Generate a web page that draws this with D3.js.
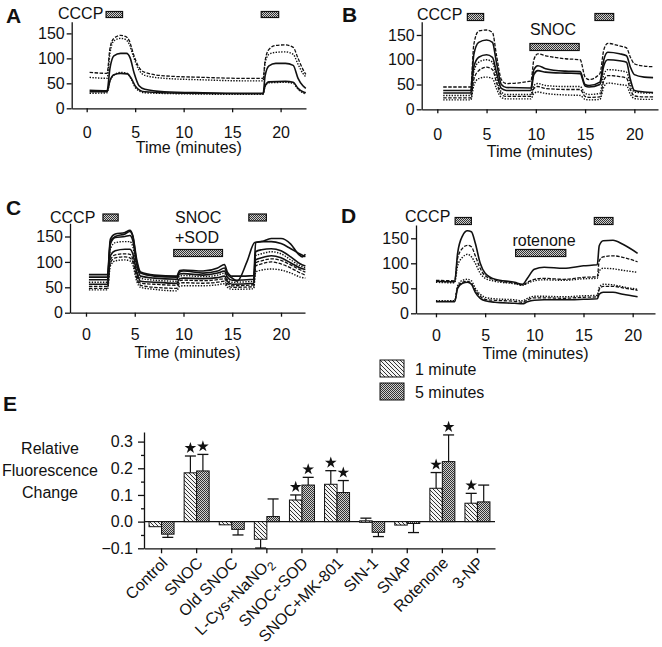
<!DOCTYPE html>
<html><head><meta charset="utf-8">
<script src="https://cdn.jsdelivr.net/npm/d3@7"></script>
<style>body{margin:0;background:#fff}text,tspan{font-family:"Liberation Sans",Arial,Helvetica,sans-serif;fill:#111}</style>
</head><body><svg id="c" width="662" height="647" xmlns="http://www.w3.org/2000/svg"></svg>
<script>
// ---------------- DATA ----------------
const timeTicks = [0, 5, 10, 15, 20];
const fluorTicks = [0, 50, 100, 150];

// Panel A traces [time (min), fluorescence]
const tracesA = [
  [[0.3,72],[2.1,70],[2.4,120],[2.8,140],[3.5,146],[4.0,144],[4.4,135],[4.8,110],[5.3,85],[6,72],[8,65],[12,62],[16,60],[18.2,60],[18.4,95],[18.8,118],[19.5,126],[20.5,127],[21.3,122],[21.8,100],[22.3,78],[22.6,68]],
  [[0.3,62],[2.1,60],[2.4,110],[2.8,135],[3.5,140],[4.0,138],[4.4,128],[4.8,105],[5.3,80],[6,66],[8,60],[12,57],[16,55],[18.2,55],[18.4,90],[18.8,108],[19.5,112],[20.5,113],[21.3,108],[21.8,88],[22.3,70],[22.6,63]],
  [[0.3,36],[2.1,35],[2.4,80],[2.8,105],[3.5,110],[4.1,110],[4.5,100],[4.9,70],[5.4,45],[6,38],[8,33],[12,31],[16,30],[18.2,30],[18.4,65],[18.8,85],[19.5,90],[20.5,90],[21.3,86],[21.8,60],[22.3,45],[22.6,40]],
  [[0.3,33],[2.1,33],[2.4,55],[2.8,67],[3.5,70],[4.2,69],[4.6,60],[5.0,45],[5.5,36],[6,33],[10,30],[16,29],[18.2,29],[18.4,45],[18.8,53],[20.5,54],[21.3,52],[21.8,40],[22.3,33],[22.6,31]],
  [[0.3,30],[2.1,31],[2.4,55],[2.8,66],[3.5,72],[4.2,70],[4.6,58],[5.0,42],[5.5,34],[6,31],[10,29],[16,28],[18.2,28],[18.4,44],[18.8,51],[20.5,52],[21.3,50],[21.8,38],[22.3,31],[22.6,29]]
];
const stylesA = ["dash","dot","solid","solid","dot"];
const cccpA = [[2.0,3.7],[18.0,19.8]];

// Panel B
const tracesB = [
  [[0.6,45],[3.4,45],[3.7,130],[4.2,158],[5,160],[5.6,155],[6,110],[6.5,60],[7,52],[9.5,57],[9.8,100],[10.2,112],[11,108],[13,102],[14.5,100],[15,65],[15.4,60],[16.5,72],[16.9,120],[17.3,133],[18.5,128],[19.2,124],[19.6,105],[20,92],[21,87],[21.9,86]],
  [[0.6,38],[3.4,38],[3.7,110],[4.2,135],[5,140],[5.6,135],[6,95],[6.5,50],[7,44],[9.5,43],[9.8,80],[10.2,88],[11,82],[13,77],[14.5,76],[15,50],[15.4,48],[16.5,55],[16.9,100],[17.3,115],[18.5,112],[19.2,108],[19.6,85],[20,70],[21,65],[21.9,64]],
  [[0.6,33],[3.4,33],[3.7,85],[4.2,105],[5,110],[5.6,105],[6,75],[6.5,42],[7,38],[9.5,38],[9.8,70],[10.2,78],[11,75],[13,73],[14.5,72],[15,47],[15.4,45],[16.5,50],[16.9,88],[17.3,100],[18.5,98],[19.2,95],[19.6,60],[20,38],[21,35],[21.9,34]],
  [[0.6,28],[3.4,28],[3.7,75],[4.2,95],[5,100],[5.6,95],[6,65],[6.5,35],[7,30],[9.5,30],[9.8,48],[10.2,52],[11,48],[13,46],[14.5,46],[15,32],[15.4,30],[16.5,32],[16.9,70],[17.3,80],[18.5,78],[19.2,75],[19.6,50],[20,35],[21,33],[21.9,33]],
  [[0.6,23],[3.4,23],[3.7,60],[4.2,78],[5,85],[5.6,80],[6,55],[6.5,30],[7,26],[9.5,26],[9.8,42],[10.2,46],[11,42],[13,40],[14.5,40],[15,26],[15.4,24],[16.5,25],[16.9,58],[17.3,68],[18.5,66],[19.2,63],[19.6,40],[20,27],[21,25],[21.9,25]],
  [[0.6,19],[3.4,19],[3.7,48],[4.2,62],[5,65],[5.6,62],[6,42],[6.5,24],[7,21],[9.5,21],[9.8,32],[10.2,35],[11,32],[13,29],[14.5,28],[15,20],[15.4,19],[16.5,20],[16.9,45],[17.3,53],[18.5,50],[19.2,48],[19.6,30],[20,22],[21,20],[21.9,20]]
];
const stylesB = ["dash","solid","solid","dot","dash","dot"];
const cccpB = [[3.05,4.7],[16.0,17.9]];
const snocB = [[9.4,14.4]];

// Panel C
const tracesC = [
  [[0.3,70],[2.2,70],[2.5,140],[3,150],[4,155],[4.5,160],[4.8,150],[5.2,100],[5.6,78],[7,72],[9.3,70],[9.6,80],[10,82],[12,78],[13.5,82],[14.2,88],[14.5,76],[15,68],[15.5,62],[16.5,100],[17.3,138],[18,140],[19,146],[20,146],[21,135],[21.8,115],[22.2,110],[22.5,115]],
  [[0.3,75],[2.2,75],[2.5,145],[3,155],[4,158],[4.5,162],[4.8,152],[5.2,105],[5.6,80],[7,74],[9.3,72],[9.6,83],[10,84],[12,82],[13.5,88],[14.2,95],[14.5,80],[15,72],[15.5,72],[17.2,73],[17.4,138],[18,140],[19,140],[20,136],[21,126],[22,115],[22.5,110]],
  [[0.3,65],[2.2,65],[2.5,135],[3,148],[4,150],[4.5,152],[4.8,142],[5.2,95],[5.6,72],[7,68],[9.3,66],[9.6,76],[10,77],[12,74],[13.5,78],[14.2,82],[14.5,70],[15,64],[17.2,66],[17.4,120],[18,124],[19,126],[20,122],[21,110],[22,96],[22.5,92]],
  [[0.3,60],[2.2,60],[2.5,125],[3,138],[4,140],[4.5,140],[4.8,130],[5.2,88],[5.6,68],[7,64],[9.3,62],[9.6,72],[10,73],[12,71],[13.5,74],[14.2,78],[14.5,66],[15,60],[17.2,62],[17.4,112],[18,116],[19,120],[20,116],[21,104],[22,92],[22.5,88]],
  [[0.3,56],[2.2,56],[2.5,112],[3,122],[4,125],[4.5,125],[4.8,116],[5.2,80],[5.6,62],[7,60],[9.3,58],[9.6,67],[10,68],[12,67],[13.5,69],[14.2,72],[14.5,62],[15,56],[17.2,58],[17.4,104],[18,108],[19,112],[20,108],[21,98],[22,88],[22.5,85]],
  [[0.3,52],[2.2,52],[2.5,104],[3,114],[4,116],[4.5,115],[4.8,106],[5.2,74],[5.6,58],[7,56],[9.3,54],[9.6,63],[10,64],[12,63],[13.5,65],[14.2,67],[14.5,58],[15,53],[17.2,55],[17.4,98],[18,102],[19,106],[20,103],[21,94],[22,84],[22.5,80]],
  [[0.3,48],[2.2,48],[2.5,98],[3,108],[4,110],[4.5,108],[4.8,100],[5.2,68],[5.6,54],[7,50],[9.3,48],[9.6,58],[10,59],[12,58],[13.5,60],[14.2,62],[14.5,54],[15,50],[17.2,51],[17.4,92],[18,96],[19,100],[20,96],[21,88],[22,78],[22.5,74]],
  [[0.3,45],[2.2,45],[2.5,92],[3,102],[4,104],[4.5,102],[4.8,94],[5.2,62],[5.6,50],[7,46],[9.3,43],[9.6,52],[10,53],[12,53],[13.5,55],[14.2,57],[14.5,50],[15,46],[17.2,47],[17.4,80],[18,84],[19,86],[20,84],[21,78],[22,70],[22.5,68]]
];
const stylesC = ["solid","solid","solid","dot","solid","dash","dash","dot"];
const cccpC = [[1.74,3.3],[16.7,18.5]];
const snocSodC = [[9.0,14.0]];

// Panel D
const tracesD = [
  [[0,64],[1.9,63],[2.2,120],[2.7,155],[3.2,165],[3.6,163],[4,140],[4.5,100],[5,80],[6,68],[8,62],[8.8,58],[9.3,70],[10,88],[11,92],[13,90],[15,95],[16.4,97],[16.6,135],[17,145],[18,146],[19,138],[20.5,120]],
  [[0,66],[1.9,65],[2.2,110],[2.7,130],[3.2,136],[3.6,133],[4,115],[4.5,90],[5,75],[6,67],[8,60],[8.8,57],[9.3,62],[10,68],[11,70],[13,68],[15,72],[16.4,73],[16.6,105],[17,113],[18,115],[19,112],[20.5,103]],
  [[0,62],[1.9,61],[2.2,95],[2.7,112],[3.2,118],[3.6,113],[4,100],[4.5,80],[5,70],[6,64],[8,59],[8.8,56],[9.3,60],[10,65],[11,67],[13,66],[15,69],[16.4,70],[16.6,85],[17,90],[18,89],[19,86],[20.5,82]],
  [[0,25],[1.9,25],[2.2,55],[2.7,66],[3.2,68],[3.6,65],[4,50],[4.5,38],[5,32],[6,29],[8,27],[8.8,25],[9.3,30],[10,34],[11,34],[13,33],[15,35],[16.4,36],[16.6,52],[17,58],[18,57],[19,53],[20.5,48]],
  [[0,24],[1.9,24],[2.2,52],[2.7,62],[3.2,64],[3.6,60],[4,46],[4.5,34],[5,28],[6,26],[8,24],[8.8,22],[9.3,27],[10,31],[11,31],[13,30],[15,32],[16.4,33],[16.6,48],[17,54],[18,54],[19,51],[20.5,46]],
  [[0,23],[1.9,23],[2.2,50],[2.7,60],[3.2,62],[3.6,58],[4,42],[4.5,30],[5,25],[6,22],[8,20],[8.8,19],[9.3,23],[10,26],[11,27],[13,27],[15,28],[16.4,29],[16.6,38],[17,42],[18,42],[19,38],[20.5,33]]
];
const stylesD = ["solid","dash","dot","dot","dash","solid"];
const cccpD = [[1.95,3.6],[16.1,18.0]];
const rotenoneD = [[8.1,13.2]];

// Panel E
const categories = ["Control","SNOC","Old SNOC","L-Cys+NaNO2","SNOC+SOD","SNOC+MK-801","SIN-1","SNAP","Rotenone","3-NP"];
const oneMin     = [-0.019, 0.183, -0.012, -0.066, 0.081, 0.140,  0.003, -0.013, 0.125, 0.069];
const fiveMin    = [-0.047, 0.190, -0.029,  0.019, 0.137, 0.109, -0.040, -0.007, 0.225, 0.074];
const oneMinErr  = [ 0.000, 0.063,  0.000,  0.033, 0.019, 0.051,  0.010,  0.000, 0.059, 0.037];
const fiveMinErr = [ 0.012, 0.062,  0.021,  0.066, 0.029, 0.045,  0.016,  0.034, 0.100, 0.063];
const star1 = [0,1,0,0,1,1,0,0,1,1];
const star5 = [0,1,0,0,1,1,0,0,1,0];
const eTicks = [-0.1, 0.0, 0.1, 0.2, 0.3];
const eMinor = [-0.05, 0.05, 0.15, 0.25];
const legendLabels = ["1 minute", "5 minutes"];

// ---------------- DRAWING ----------------
const svg = d3.select("#c");
svg.append("rect").attr("width",662).attr("height",647).attr("fill","#fff");
const defs = svg.append("defs");
const pd = defs.append("pattern").attr("id","diag").attr("patternUnits","userSpaceOnUse").attr("width",4).attr("height",4);
pd.append("rect").attr("width",4).attr("height",4).attr("fill","#f4f4f4");
pd.append("path").attr("d","M0,0 L4,4 M-1,3 L1,5 M3,-1 L5,1").attr("stroke","#333").attr("stroke-width",1);
const pc = defs.append("pattern").attr("id","dots").attr("patternUnits","userSpaceOnUse").attr("width",2).attr("height",2);
pc.append("rect").attr("width",2).attr("height",2).attr("fill","#d0d0d0");
pc.append("rect").attr("width",1).attr("height",1).attr("fill","#333");
pc.append("rect").attr("x",1).attr("y",1).attr("width",1).attr("height",1).attr("fill","#333");

const dashes = {solid:null, dash:"3.5,1.5", dot:"1.4,1.4"};
const widths = {solid:1.6, dash:1.3, dot:1.4};

function panel(cfg){
  const g = svg.append("g");
  const x = d3.scaleLinear().domain(cfg.tdom).range([cfg.left, cfg.right]);
  const y = d3.scaleLinear().domain([0, cfg.vtop]).range([cfg.base, cfg.top]);
  const ya = g.append("g").attr("transform",`translate(${cfg.left},0)`)
    .call(d3.axisLeft(y).tickValues(fluorTicks).tickSize(5).tickPadding(2).tickSizeOuter(0));
  const xa = g.append("g").attr("transform",`translate(0,${cfg.base})`)
    .call(d3.axisBottom(x).tickValues(timeTicks).tickSize(4).tickPadding(cfg.xpad).tickSizeOuter(0));
  [ya,xa].forEach(a=>{a.selectAll("text").attr("font-size",16).attr("font-family","Liberation Sans, Arial, sans-serif").attr("fill","#111");
    a.selectAll("line,path").attr("stroke","#111").attr("stroke-width",1.3);});
  g.append("text").attr("x",(cfg.left+cfg.right)/2).attr("y",cfg.tlab).attr("text-anchor","middle").attr("font-size",16).text("Time (minutes)");
  const line = d3.line().x(d=>x(d[0])).y(d=>y(d[1])).curve(d3.curveMonotoneX);
  cfg.traces.forEach((tr,i)=>{
    const s = cfg.styles[i];
    g.append("path").attr("d",line(tr)).attr("fill","none").attr("stroke","#111")
      .attr("stroke-width",widths[s]).attr("stroke-dasharray",dashes[s]);
  });
  cfg.boxes.forEach(b=>{
    b.spans.forEach(sp=>{
      g.append("rect").attr("x",x(sp[0])).attr("y",b.y).attr("width",x(sp[1])-x(sp[0])).attr("height",b.h)
        .attr("fill","url(#dots)").attr("stroke","#111").attr("stroke-width",1.2);
    });
  });
  cfg.texts.forEach(t=>{
    g.append("text").attr("x",t.x).attr("y",t.y).attr("font-size",t.size||16)
      .attr("font-weight",t.bold?"bold":null).attr("text-anchor",t.anchor||"start").text(t.s);
  });
}

panel({left:71.7,right:306,tdom:[-1.546,22.62],base:108.3,top:21.7,vtop:173.4,xpad:14,tlab:153,
  traces:tracesA,styles:stylesA,
  boxes:[{spans:cccpA,y:11.5,h:6}],
  texts:[{x:6,y:23,s:"A",bold:true,size:21},{x:58,y:19,s:"CCCP"}]});
panel({left:421.7,right:658,tdom:[-1.584,22.4],base:109.3,top:21.7,vtop:176.8,xpad:15,tlab:157,
  traces:tracesB,styles:stylesB,
  boxes:[{spans:cccpB,y:13.5,h:7},{spans:snocB,y:43.5,h:7}],
  texts:[{x:342,y:22,s:"B",bold:true,size:21},{x:417,y:19.5,s:"CCCP"},{x:553,y:34.5,s:"SNOC",anchor:"middle"}]});
panel({left:70,right:305,tdom:[-1.64,22.46],base:312.7,top:223.3,vtop:176,xpad:12,tlab:358,
  traces:tracesC,styles:stylesC,
  boxes:[{spans:cccpC,y:214,h:7},{spans:snocSodC,y:249.5,h:7}],
  texts:[{x:6,y:215,s:"C",bold:true,size:21},{x:50,y:222.5,s:"CCCP"},{x:175,y:222.5,s:"SNOC"},{x:175,y:243,s:"+SOD"}]});
panel({left:416,right:655,tdom:[-2.03,22.27],base:313.3,top:225,vtop:176.6,xpad:12,tlab:359,
  traces:tracesD,styles:stylesD,
  boxes:[{spans:cccpD,y:217.5,h:7},{spans:rotenoneD,y:249.5,h:7}],
  texts:[{x:341,y:223,s:"D",bold:true,size:21},{x:405,y:222,s:"CCCP"},{x:544,y:246,s:"rotenone",anchor:"middle"}]});

// ---------- Panel E ----------
const gE = svg.append("g");
const xE = d3.scaleBand().domain(categories).range([144,495]).padding(0);
const yE = d3.scaleLinear().domain([-0.1,0.336]).range([548.3,432]);
const bw = 12.5;
gE.append("text").attr("x",3).attr("y",411).attr("font-size",21).attr("font-weight","bold").text("E");
const yAx = gE.append("g").attr("transform","translate(144,0)")
  .call(d3.axisLeft(yE).tickValues(eTicks).tickSize(6).tickPadding(5).tickSizeOuter(0).tickFormat(d3.format(".1f")));
const yMin = gE.append("g").attr("transform","translate(144,0)")
  .call(d3.axisLeft(yE).tickValues(eMinor).tickSize(3).tickFormat("").tickSizeOuter(0));
yMin.select(".domain").remove();
const xAx = gE.append("g").attr("transform",`translate(0,${yE(-0.1)})`)
  .call(d3.axisBottom(xE).tickSize(5).tickSizeOuter(0).tickFormat(""));
[yAx,yMin,xAx].forEach(a=>{a.selectAll("line,path").attr("stroke","#111").attr("stroke-width",1.3);
  a.selectAll("text").attr("font-size",16).attr("font-family","Liberation Sans, Arial, sans-serif").attr("fill","#111");});
gE.append("line").attr("x1",144).attr("x2",495).attr("y1",yE(0)).attr("y2",yE(0)).attr("stroke","#111").attr("stroke-width",1.2);

["Relative","Fluorescence","Change"].forEach((t,i)=>{
  gE.append("text").attr("x",50).attr("y",454+i*22).attr("text-anchor","middle").attr("font-size",16).text(t);
});

function bars(vals, errs, stars, offset, fill){
  categories.forEach((c,i)=>{
    const cx = xE(c)+xE.bandwidth()/2;
    const x0 = cx + offset;
    const v = vals[i];
    const y0 = yE(Math.max(0,v)), y1 = yE(Math.min(0,v));
    const mid = x0 + bw/2;
    if (errs[i] > 0){
      const ye = yE(v + (v>=0?1:-1)*errs[i]);
      const yb = yE(v);
      gE.append("line").attr("x1",mid).attr("x2",mid).attr("y1",yb).attr("y2",ye).attr("stroke","#111").attr("stroke-width",1.2);
      gE.append("line").attr("x1",mid-5.5).attr("x2",mid+5.5).attr("y1",ye).attr("y2",ye).attr("stroke","#111").attr("stroke-width",1.3);
    }
    gE.append("rect").attr("x",x0).attr("y",y0).attr("width",bw).attr("height",Math.max(1.5,y1-y0))
      .attr("fill",fill).attr("stroke","#111").attr("stroke-width",1);
    if (stars[i]){
      const top = yE(v + errs[i]);
      gE.append("path").attr("d",d3.symbol().type(d3.symbolStar).size(42)())
        .attr("transform",`translate(${mid},${top-8})`).attr("fill","#111");
    }
  });
}
bars(oneMin, oneMinErr, star1, -bw, "url(#diag)");
bars(fiveMin, fiveMinErr, star5, 0, "url(#dots)");

categories.forEach(c=>{
  const cx = xE(c)+xE.bandwidth()/2;
  const t = gE.append("text").attr("transform",`translate(${cx+7},${564}) rotate(-45)`)
    .attr("text-anchor","end").attr("font-size",16).attr("fill","#111");
  if (c.endsWith("NaNO2")){
    t.append("tspan").attr("fill","#111").text("L-Cys+NaNO");
    t.append("tspan").attr("fill","#111").attr("font-size",12).attr("dy",4).text("2");
  } else t.text(c);
});

legendLabels.forEach((l,i)=>{
  gE.append("rect").attr("x",380).attr("y",360+i*23).attr("width",24).attr("height",17)
    .attr("fill", i===0?"url(#diag)":"url(#dots)").attr("stroke","#111").attr("stroke-width",1);
  gE.append("text").attr("x",415).attr("y",374.5+i*23).attr("font-size",16).text(l);
});
</script></body></html>
